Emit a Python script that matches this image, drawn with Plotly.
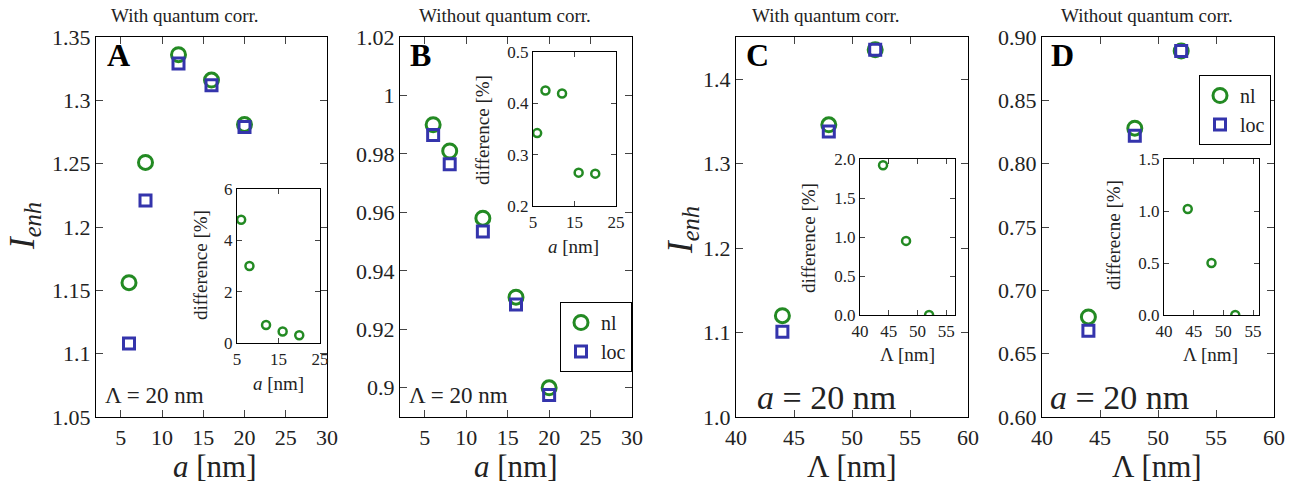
import plotly.graph_objects as go

# ---------------- data ----------------
a_nm = [6, 8, 12, 16, 20]
A_nl = [1.156, 1.251, 1.336, 1.316, 1.281]
A_loc = [1.108, 1.221, 1.329, 1.312, 1.279]
A_diff = [4.8, 3.0, 0.7, 0.45, 0.3]

B_nl = [0.990, 0.981, 0.958, 0.931, 0.900]
B_loc = [0.9865, 0.9765, 0.9535, 0.9285, 0.8975]
B_diff = [0.342, 0.425, 0.419, 0.265, 0.263]

Lam_nm = [44, 48, 52]
C_nl = [1.120, 1.346, 1.435]
C_loc = [1.101, 1.338, 1.435]
C_diff = [1.92, 0.95, 0.0]

D_nl = [0.679, 0.828, 0.889]
D_loc = [0.668, 0.822, 0.889]
D_diff = [1.02, 0.50, 0.0]

A_yticks = [1.05, 1.1, 1.15, 1.2, 1.25, 1.3, 1.35]
A_yticktext = ["1.05", "1.1", "1.15", "1.2", "1.25", "1.3", "1.35"]
B_yticks = [0.9, 0.92, 0.94, 0.96, 0.98, 1.0, 1.02]
B_yticktext = ["0.9", "0.92", "0.94", "0.96", "0.98", "1", "1.02"]
C_yticks = [1.0, 1.1, 1.2, 1.3, 1.4]
C_yticktext = ["1.0", "1.1", "1.2", "1.3", "1.4"]
D_yticks = [0.60, 0.65, 0.70, 0.75, 0.80, 0.85, 0.90]
D_yticktext = ["0.60", "0.65", "0.70", "0.75", "0.80", "0.85", "0.90"]
a_xticks = [5, 10, 15, 20, 25, 30]
L_xticks = [40, 45, 50, 55, 60]

Ai_yticks = [0, 2, 4, 6]
Bi_yticks = [0.2, 0.3, 0.4, 0.5]
Bi_yticktext = ["0.2", "0.3", "0.4", "0.5"]
Ci_yticks = [0.0, 0.5, 1.0, 1.5, 2.0]
Ci_yticktext = ["0.0", "0.5", "1.0", "1.5", "2.0"]
Di_yticks = [0.0, 0.5, 1.0, 1.5]
Di_yticktext = ["0.0", "0.5", "1.0", "1.5"]
ai_xticks = [5, 15, 25]
Li_xticks = [40, 45, 50, 55]

# ---------------- style ----------------
W, H = 1301, 486
GREEN = "#238a23"
BLUE = "#3434ac"
FONT = "Liberation Serif"
TXT = "#222222"


def xd(px0, px1):
    return [px0 / W, px1 / W]


def yd(py0, py1):
    # py0 top, py1 bottom in pixels
    return [1 - py1 / H, 1 - py0 / H]


fig = go.Figure()


def add_main(xa, ya, x, nl, loc, legend=None):
    fig.add_trace(go.Scatter(
        x=x, y=nl, mode="markers", xaxis=xa, yaxis=ya, name="nl",
        showlegend=legend is not None, legend=legend or "legend",
        marker=dict(symbol="circle-open", size=14, color=GREEN, line=dict(width=3, color=GREEN))))
    fig.add_trace(go.Scatter(
        x=x, y=loc, mode="markers", xaxis=xa, yaxis=ya, name="loc",
        showlegend=legend is not None, legend=legend or "legend",
        marker=dict(symbol="square-open", size=11, color=BLUE, line=dict(width=3, color=BLUE))))


def add_inset(xa, ya, x, d):
    fig.add_trace(go.Scatter(
        x=x, y=d, mode="markers", xaxis=xa, yaxis=ya, showlegend=False,
        marker=dict(symbol="circle-open", size=8, color=GREEN, line=dict(width=2.5, color=GREEN))))


add_main("x", "y", a_nm, A_nl, A_loc)
add_inset("x2", "y2", a_nm, A_diff)
add_main("x3", "y3", a_nm, B_nl, B_loc, legend="legend")
add_inset("x4", "y4", a_nm, B_diff)
add_main("x5", "y5", Lam_nm, C_nl, C_loc)
add_inset("x6", "y6", Lam_nm, C_diff)
add_main("x7", "y7", Lam_nm, D_nl, D_loc, legend="legend2")
add_inset("x8", "y8", Lam_nm, D_diff)


def ax(domain, rng, tickvals, ticktext=None, anchor=None, size=22, ticklen=7):
    d = dict(domain=domain, range=rng, tickvals=tickvals, showgrid=False, zeroline=False,
             showline=True, linecolor="black", linewidth=1.3, mirror="allticks",
             ticks="inside", ticklen=ticklen, tickwidth=1.2, tickcolor="#444444",
             tickfont=dict(family=FONT, size=size, color=TXT), anchor=anchor,
             automargin=False)
    if ticktext is not None:
        d["ticktext"] = ticktext
    return d


TOP, BOT = 37, 417
panels = {
    "A": (96, 327), "B": (400, 632), "C": (736, 968), "D": (1042, 1274),
}

lay = {}
# Main A
lay["xaxis"] = ax(xd(*panels["A"]), [2, 30], a_xticks, anchor="y")
lay["yaxis"] = ax(yd(TOP, BOT), [1.05, 1.35], A_yticks, A_yticktext, anchor="x")
# Inset A
lay["xaxis2"] = ax(xd(237, 320), [5, 25], ai_xticks, anchor="y2", size=17, ticklen=5)
lay["yaxis2"] = ax(yd(189, 343), [0, 6], Ai_yticks, anchor="x2", size=17, ticklen=5)
# Main B
lay["xaxis3"] = ax(xd(*panels["B"]), [2, 30], a_xticks, anchor="y3")
lay["yaxis3"] = ax(yd(TOP, BOT), [0.89, 1.02], B_yticks, B_yticktext, anchor="x3")
# Inset B
lay["xaxis4"] = ax(xd(533, 616), [5, 25], ai_xticks, anchor="y4", size=17, ticklen=5)
lay["yaxis4"] = ax(yd(52, 206), [0.2, 0.5], Bi_yticks, Bi_yticktext, anchor="x4", size=17, ticklen=5)
# Main C
lay["xaxis5"] = ax(xd(*panels["C"]), [40, 60], L_xticks, anchor="y5")
lay["yaxis5"] = ax(yd(TOP, BOT), [1.0, 1.45], C_yticks, C_yticktext, anchor="x5")
# Inset C
lay["xaxis6"] = ax(xd(860, 955), [40, 56.5], Li_xticks, anchor="y6", size=17, ticklen=5)
lay["yaxis6"] = ax(yd(159, 315), [0, 2.0], Ci_yticks, Ci_yticktext, anchor="x6", size=17, ticklen=5)
# Main D
lay["xaxis7"] = ax(xd(*panels["D"]), [40, 60], L_xticks, anchor="y7")
lay["yaxis7"] = ax(yd(TOP, BOT), [0.6, 0.9], D_yticks, D_yticktext, anchor="x7")
# Inset D
lay["xaxis8"] = ax(xd(1164, 1259), [40, 56], Li_xticks, anchor="y8", size=17, ticklen=5)
lay["yaxis8"] = ax(yd(159, 315), [0, 1.5], Di_yticks, Di_yticktext, anchor="x8", size=17, ticklen=5)

fig.update_layout(**lay)

ann = []


def text(x, y, s, size, angle=0, xanchor="center", yanchor="middle", color=TXT):
    ann.append(dict(x=x / W, y=1 - y / H, xref="paper", yref="paper", text=s, showarrow=False,
                    font=dict(family=FONT, size=size, color=color), textangle=angle,
                    xanchor=xanchor, yanchor=yanchor))


# top titles
text(185, 15, "With quantum corr.", 19)
text(505, 15, "Without quantum corr.", 19)
text(826, 15, "With quantum corr.", 19)
text(1147, 15, "Without quantum corr.", 19)

# panel letters
text(105, 55, "<b>A</b>", 32, xanchor="left", color="black")
text(408, 55, "<b>B</b>", 32, xanchor="left", color="black")
text(744, 55, "<b>C</b>", 32, xanchor="left", color="black")
text(1049, 55, "<b>D</b>", 32, xanchor="left", color="black")

# main x titles
text(215, 466, "<i>a</i> [nm]", 31)
text(516, 466, "<i>a</i> [nm]", 31)
text(852, 466, "Λ [nm]", 31)
text(1157, 466, "Λ [nm]", 31)

# main y titles
text(24, 226, "<i>I</i><sub><i>enh</i></sub>", 35, angle=-90)
text(683, 230, "<i>I</i><sub><i>enh</i></sub>", 35, angle=-90)

# parameter annotations
text(103, 395, "Λ = 20 nm", 23, xanchor="left")
text(407, 395, "Λ = 20 nm", 23, xanchor="left")
text(755, 397, "<i>a</i> = 20 nm", 34, xanchor="left")
text(1048, 397, "<i>a</i> = 20 nm", 34, xanchor="left")

# inset titles
text(200, 265, "difference [%]", 19, angle=-90)
text(278, 383, "<i>a</i> [nm]", 19)
text(482, 130, "difference [%]", 19, angle=-90)
text(573, 247, "<i>a</i> [nm]", 19)
text(808, 238, "difference [%]", 19, angle=-90)
text(907, 354, "Λ [nm]", 19)
text(1113, 235, "differecne [%]", 19, angle=-90)
text(1210, 354, "Λ [nm]", 19)

fig.update_layout(
    annotations=ann,
    width=W, height=H,
    margin=dict(l=0, r=0, t=0, b=0, pad=0, autoexpand=False),
    paper_bgcolor="white", plot_bgcolor="white",
    font=dict(family=FONT, color=TXT),
    legend=dict(x=560 / W, y=1 - 302 / H, xanchor="left", yanchor="top",
                bordercolor="black", borderwidth=1, bgcolor="white",
                font=dict(family=FONT, size=20, color=TXT),
                tracegroupgap=0, itemwidth=30),
    legend2=dict(x=1199 / W, y=1 - 75 / H, xanchor="left", yanchor="top",
                 bordercolor="black", borderwidth=1, bgcolor="white",
                 font=dict(family=FONT, size=20, color=TXT),
                 tracegroupgap=0, itemwidth=30),
)

fig.write_html("out.html")
